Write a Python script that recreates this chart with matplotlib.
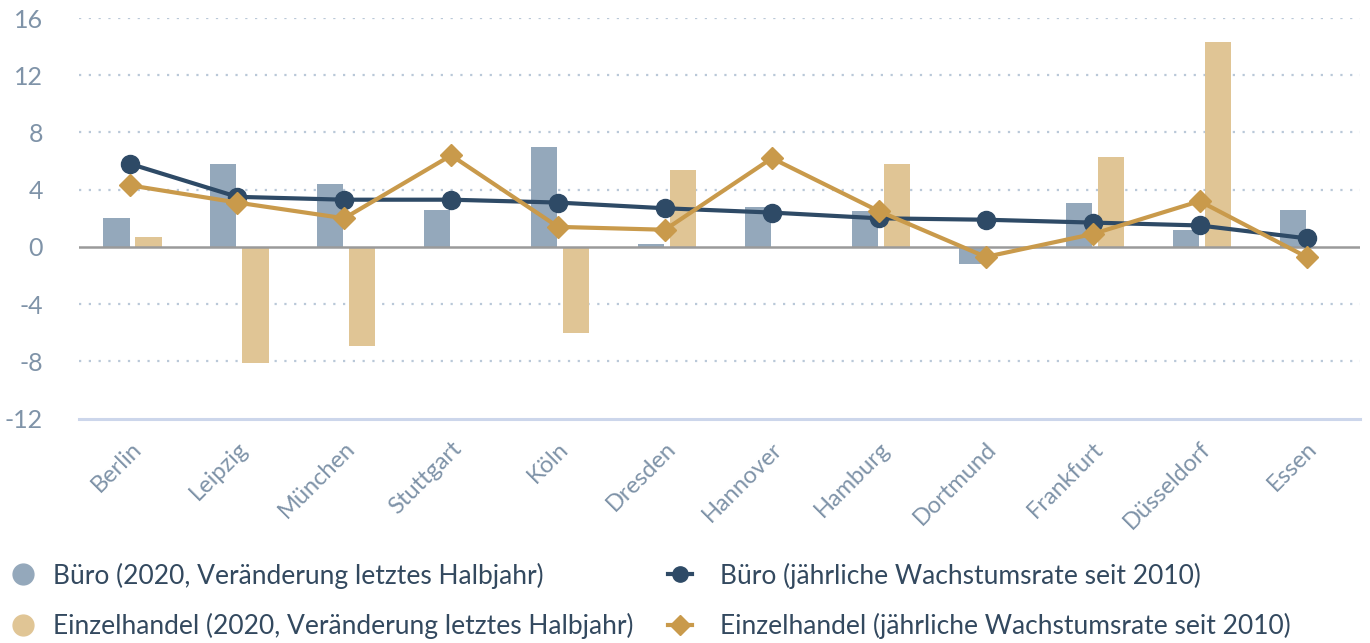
import matplotlib.pyplot as plt
from matplotlib.lines import Line2D
import numpy as np

plt.rcParams['font.family'] = ['Lato', 'DejaVu Sans']

staedte = ['Berlin', 'Leipzig', 'München', 'Stuttgart', 'Köln', 'Dresden',
           'Hannover', 'Hamburg', 'Dortmund', 'Frankfurt', 'Düsseldorf', 'Essen']
buero_halbjahr = [2.0, 5.8, 4.4, 2.6, 7.0, 0.2, 2.8, 2.5, -1.2, 3.1, 1.2, 2.6]
handel_halbjahr = [0.7, -8.1, -6.9, 0.0, -6.0, 5.4, 0.0, 5.8, 0.0, 6.3, 14.3, 0.0]
buero_rate = [5.8, 3.5, 3.3, 3.3, 3.1, 2.7, 2.4, 2.0, 1.9, 1.7, 1.5, 0.6]
handel_rate = [4.3, 3.1, 2.0, 6.4, 1.4, 1.2, 6.2, 2.5, -0.7, 0.9, 3.2, -0.7]
y_ticks = [-12, -8, -4, 0, 4, 8, 12, 16]

c_buero_bar = '#94a8bb'
c_handel_bar = '#e0c595'
c_buero_line = '#2e4a66'
c_handel_line = '#c99a4b'
c_tick = '#7f93a8'
c_text = '#33495f'

fig = plt.figure(figsize=(13.7, 6.43), dpi=100)
ax = fig.add_axes([0.0577, 0.349, 0.935, 0.623])

x = np.arange(len(staedte))
bw = 0.245
ax.bar(x - 0.13, buero_halbjahr, width=bw, color=c_buero_bar, zorder=2)
ax.bar(x + 0.17, handel_halbjahr, width=bw, color=c_handel_bar, zorder=2)

ax.plot(x, buero_rate, color=c_buero_line, lw=3, marker='o', ms=13, zorder=4)
ax.plot(x, handel_rate, color=c_handel_line, lw=3, marker='D', ms=11, zorder=5)

ax.set_xlim(-0.48, 11.5)
ax.set_ylim(-12, 16)
ax.set_yticks(y_ticks)
ax.set_yticklabels([str(t) for t in y_ticks])
for t in y_ticks:
    if t in (0, -12):
        continue
    ax.axhline(t, color='#b9c8d8', lw=1.6, ls=(0, (1, 3.4)), zorder=1)
ax.axhline(0, color='#9a9a9a', lw=1.8, zorder=3)
ax.axhline(-12, color='#ccd6eb', lw=2.2, zorder=1, clip_on=False)

for s in ax.spines.values():
    s.set_visible(False)
ax.tick_params(axis='y', length=0, pad=26, labelsize=18, labelcolor=c_tick)
ax.tick_params(axis='x', length=0, pad=14, labelsize=17, labelcolor=c_tick)
ax.set_xticks(x)
ax.set_xticklabels(staedte, rotation=45, ha='right', rotation_mode='anchor')
for lbl in ax.get_yticklabels():
    lbl.set_horizontalalignment('right')

h_left = [
    Line2D([], [], ls='none', marker='o', ms=15, color=c_buero_bar),
    Line2D([], [], ls='none', marker='o', ms=15, color=c_handel_bar),
]
h_right = [
    Line2D([], [], color=c_buero_line, lw=3, marker='o', ms=11),
    Line2D([], [], color=c_handel_line, lw=3, marker='D', ms=10),
]
leg_kw = dict(frameon=False, fontsize=19, labelcolor=c_text,
              labelspacing=0.92, borderaxespad=0, borderpad=0)
fig.legend(h_left, ['Büro (2020, Veränderung letztes Halbjahr)',
                    'Einzelhandel (2020, Veränderung letztes Halbjahr)'],
           loc='lower left', bbox_to_anchor=(10 / 1370, 4 / 643),
           handlelength=1.0, handletextpad=0.62, **leg_kw)
fig.legend(h_right, ['Büro (jährliche Wachstumsrate seit 2010)',
                     'Einzelhandel (jährliche Wachstumsrate seit 2010)'],
           loc='lower left', bbox_to_anchor=(668 / 1370, 4 / 643),
           handlelength=0.92, handletextpad=1.05, **leg_kw)

fig.savefig('out.png', dpi=100)
